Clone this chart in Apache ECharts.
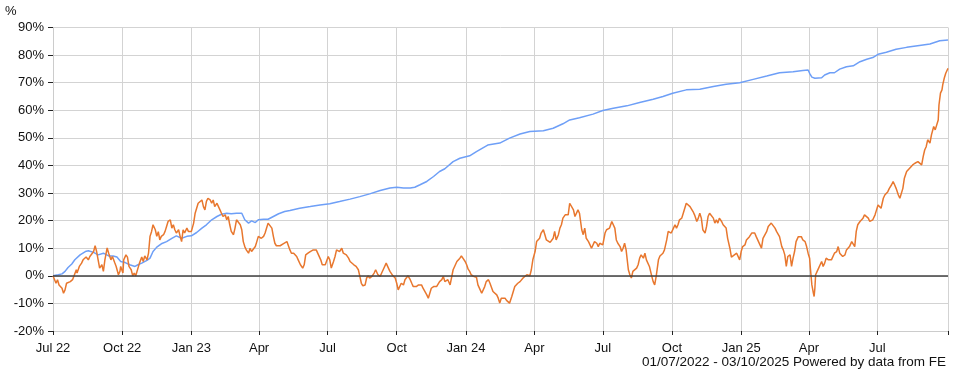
<!DOCTYPE html>
<html>
<head>
<meta charset="utf-8">
<script src="https://cdn.jsdelivr.net/npm/echarts@6/dist/echarts.min.js"></script>
<style>
html,body{margin:0;padding:0;background:#fff;}
#chart{width:959px;height:379px;}
</style>
</head>
<body>
<div id="chart"></div>
<script>
// x values are days since 01/07/2022
const tickDays = [0, 92, 184, 274, 365, 457, 549, 640, 731, 823, 915, 1005, 1096];
const tickLabels = ['Jul 22', 'Oct 22', 'Jan 23', 'Apr', 'Jul', 'Oct', 'Jan 24', 'Apr', 'Jul', 'Oct', 'Jan 25', 'Apr', 'Jul'];
const endDay = 1190;
const yTicks = [-20, -10, 0, 10, 20, 30, 40, 50, 60, 70, 80, 90];

const fundDays = [0,1,4,6,8,12,14,16,18,20,23,26,28,31,32,35,38,40,44,47,49,51,54,56,58,60,62,65,67,69,72,74,77,79,82,84,87,89,90,93,94,97,99,101,104,106,108,110,113,115,118,120,122,125,127,129,131,133,136,138,140,142,144,147,149,151,153,156,158,160,162,164,167,169,171,173,175,178,180,182,184,187,189,191,193,195,198,200,202,204,206,209,211,213,215,218,220,222,224,226,229,231,233,235,237,240,242,244,246,249,251,253,255,257,260,262,264,266,269,271,273,275,277,280,282,284,286,288,291,293,295,297,302,306,
311,313,315,317,320,324,326,329,332,334,336,339,342,346,348,350,353,356,358,362,364,366,368,370,373,375,377,379,381,384,386,388,390,393,395,397,400,403,406,408,410,412,415,417,419,421,424,427,429,432,435,437,439,443,446,448,450,452,455,457,459,461,463,466,468,470,472,475,477,479,481,483,486,488,490,492,494,497,499,501,503,506,508,510,512,514,517,519,521,523,525,528,530,532,534,537,539,541,543,545,548,550,552,554,556,559,561,563,565,568,570,572,574,576,579,581,583,585,587,590,592,594,596,598,601,603,605,607,
610,612,614,616,618,621,623,625,627,630,632,634,636,638,641,643,645,647,649,652,654,656,658,661,663,665,667,669,672,674,676,678,681,683,685,687,689,692,694,696,698,700,703,705,707,709,712,714,716,718,720,723,725,727,729,731,734,736,738,740,743,745,747,749,751,754,756,758,760,762,765,767,769,771,773,776,778,780,782,785,787,789,791,793,796,798,800,802,805,807,809,811,813,816,818,820,822,825,827,829,831,833,836,838,840,842,844,847,849,851,853,856,858,860,862,864,867,869,871,873,875,878,880,882,884,886,889,891,893,895,897,900,902,904,906,909,911,
913,915,917,920,922,924,926,929,931,933,935,937,940,942,944,946,949,951,953,955,957,960,962,964,966,969,971,973,975,977,980,982,984,986,988,991,993,995,997,1000,1002,1004,1006,1007,1009,1011,1012,1013,1014,1016,1018,1020,1022,1024,1026,1028,1031,1033,1035,1037,1039,1042,1044,1046,1048,1050,1053,1055,1057,1059,1062,1064,1066,1068,1070,1073,1075,1077,1079,1081,1084,1086,1088,1090,1093,1095,1097,1099,1101,1104,1106,1108,1110,1112,1115,1117,1119,1121,1124,1126,1128,1130,1132,1135,1137,1139,1141,1143,1146,1148,1150,1152,1155,1157,1159,1161,1163,1166,1168,1170,1171,1173,1175,1177,1178,1180,1182,1183,1185,1187,1189,1190];

const fundValues = [0,0.0,-2.7,-1.4,-3.3,-4.5,-6.3,-5.1,-2.7,-2.1,-2.1,-1.4,0,2.2,1.0,3.4,4.6,5.8,6.8,5.8,7.0,6.8,8.8,10.9,8.8,5.8,2.8,4.0,1.6,5.8,10.1,8.2,5.8,7.0,4.8,3.4,0.4,1.6,3.4,1.0,5.8,7.6,6.8,3.4,2.2,0.0,1.0,0.0,2.8,4.6,6.8,5.2,7.2,5.8,8.2,14.3,16.0,18.5,16.7,14.3,16.0,13.0,14.3,14.9,16.1,17.9,19.7,20.3,17.3,18.5,16.7,15.5,16.7,14.3,12.4,16.7,15.5,17.3,16.1,16.7,16.1,19.1,22.7,24.5,26.3,27.0,27.5,25.1,23.9,27.0,28.1,27.5,26.3,27.5,25.1,26.3,25.1,23.9,22.7,21.5,22.1,20.3,21.5,18.5,16.1,14.9,17.3,20.3,20.9,18.5,16.7,12.4,10.6,9.4,8.2,10.0,8.8,9.4,10.6,12.4,14.3,14.9,13.6,14.3,15.5,17.3,19.1,18.5,17.3,14.3,11.8,10.9,10.9,11.6,
12.4,11.8,9.4,8.2,8.2,7.0,5.8,4.0,2.8,4.0,7.6,8.2,8.8,9.4,10.0,9.4,7.6,5.8,4.0,4.0,4.6,7.0,5.8,2.8,5.2,7.0,9.4,8.8,8.8,10.0,8.2,8.8,7.6,6.4,5.2,4.6,4.0,3.4,2.2,-0.2,-2.7,-3.6,-3.3,-0.8,0,-0.8,-0.2,1.0,2.2,0.4,-0.2,1.0,2.2,4.6,2.8,1.6,1.0,0,-0.8,-2.7,-5.1,-5.7,-2.7,-3.3,-1.4,-0.8,0,-1.4,-2.7,-3.9,-3.3,-3.9,-3.3,-3.9,-3.3,-4.5,-5.1,-6.9,-8.1,-6.3,-4.5,-3.9,-4.5,-3.9,-3.3,-2.1,-1.4,-0.2,-2.1,-2.7,-1.4,-3.3,-3.9,2.2,3.4,5.2,5.8,6.4,7.2,6.4,5.2,4.0,2.4,1.6,0.4,-0.2,-0.8,-0.5,-3.3,-5.1,-6.3,-5.7,-3.9,-2.1,-1.4,-2.7,-3.3,-5.7,-5.7,-6.9,-8.1,-9.9,-8.1,-7.5,-8.1,-8.9,-9.3,-9.9,
-7.5,-5.7,-3.9,-3.3,-2.7,-2.1,-1.4,-0.8,-0.8,0.4,-0.2,0,2.2,5.8,8.8,12.4,12.4,13.6,15.5,16.7,14.9,13.0,13.6,12.1,11.6,13.6,16.1,13.0,14.9,17.3,18.5,20.9,22.1,21.5,22.1,26.3,26.9,23.9,21.5,22.1,23.9,22.7,16.7,14.9,17.3,13.6,12.4,11.2,10.0,10.6,12.4,11.8,10.6,11.8,11.2,11.2,15.5,16.7,16.1,17.3,19.7,19.1,17.3,13.0,11.8,10.6,8.8,10.0,11.8,9.4,2.2,0.4,-0.8,1.6,2.2,2.8,4.0,6.4,7.6,6.4,8.2,5.8,5.2,3.4,0,-2.1,-3.3,-0.2,5.8,7.2,7.6,8.2,9.4,13.0,16.1,16.7,15.5,17.3,18.5,17.3,18.5,20.3,20.9,22.7,23.3,26.3,26.9,25.1,24.5,23.3,22.1,19.7,20.9,22.7,20.9,16.7,15.5,17.9,21.5,22.7,23.3,20.9,19.1,20.3,19.1,20.9,19.7,18.5,19.1,17.3,13.6,10.0,6.8,6.4,7.6,8.2,7.6,
5.8,8.8,10.6,11.2,13.0,13.6,14.2,15.5,16.1,15.5,14.2,14.2,11.2,10.0,13.6,14.2,16.1,17.9,17.3,19.1,18.5,17.3,16.1,15.5,14.2,10.6,9.4,7.6,3.4,7.0,7.6,3.4,6.4,8.8,12.4,14.2,14.8,14.2,13.0,12.4,10.6,8.2,6.4,2.8,-3.3,-6.3,-7.5,-4.5,0.4,1.6,2.8,4.0,5.2,3.4,4.6,6.4,5.8,6.2,5.8,6.4,8.2,8.8,10.6,8.2,8.8,7.0,7.6,9.4,10.0,10.6,12.4,11.8,10.6,16.1,18.5,19.7,19.1,20.9,22.1,21.5,20.9,19.7,20.3,20.3,22.1,23.9,25.7,26.3,24.5,28.1,29.3,28.7,30.5,31.7,33.0,34.2,33.0,31.7,29.3,28.1,27.5,31.7,35.4,37.8,38.4,39.0,39.6,40.2,40.8,41.2,41.4,40.8,40.2,43.2,45.6,46.8,49.3,48.1,51.1,51.7,54.1,52.9,52.3,56.5,61.9,66.2,67.4,69.2,71.6,73.4,74.6,75.2];

const benchDays = [0,7,12,16,20,25,29,36,43,47,54,60,67,74,80,85,90,96,102,109,113,118,125,129,133,138,144,151,158,164,171,178,184,191,198,204,211,218,224,231,237,244,251,255,260,264,269,273,280,286,293,300,308,315,328,342,355,368,381,395,408,421,435,448,457,466,475,481,488,497,506,514,521,532,541,554,563,578,594,607,621,634,652,665,678,687,700,718,731,745,763,780,798,811,824,842,860,878,895,913,931,949,966,984,997,1004,1006,1009,1013,1022,1026,1033,1039,1046,1055,1064,1073,1082,1090,1097,1108,1121,1135,1152,1166,1179,1190];
const benchValues = [0,0.4,0.7,1.6,3.0,4.3,5.8,7.6,8.8,9.1,8.5,7.6,8.2,7.2,7.2,6.8,5.2,4.8,4.0,3.4,4.0,4.6,5.6,6.4,8.8,10.4,11.6,12.4,13.6,14.5,13.6,14.3,14.5,15.7,17.3,18.5,20.3,21.5,22.3,22.7,22.5,22.7,22.7,20.3,19.1,19.9,19.3,20.3,20.5,20.5,21.5,22.5,23.3,23.7,24.5,25.1,25.7,26.1,26.9,27.8,28.7,29.7,30.9,31.8,32.1,31.8,31.8,32.1,33.0,34.2,36.0,37.8,38.8,41.4,42.6,43.5,45.0,47.4,48.1,49.9,51.4,52.3,52.6,53.5,55.1,56.5,57.3,58.6,59.9,60.7,61.6,62.8,64.0,65.0,66.2,67.4,67.6,68.6,69.4,70.0,71.2,72.4,73.6,74.0,74.4,74.6,73.4,72.0,71.6,71.8,72.8,73.6,73.6,74.9,75.8,76.1,77.6,78.5,79.1,80.3,81.0,82.1,82.8,83.5,84.0,85.2,85.5];

const footerText = '01/07/2022 - 03/10/2025 Powered by data from FE';
const FONT = '"Liberation Sans", Arial, sans-serif';

const fundData = fundDays.map((d, i) => [d, fundValues[i]]);
const benchData = benchDays.map((d, i) => [d, benchValues[i]]);

const chart = echarts.init(document.getElementById('chart'), null, {renderer: 'canvas'});
chart.setOption({
  animation: false,
  backgroundColor: '#ffffff',
  grid: {left: 53, right: 11, top: 27.5, bottom: 48, containLabel: false},
  graphic: [
    {type: 'text', left: 5, top: 5, style: {text: '%', fontSize: 13, fontFamily: FONT, fill: '#111'}},
    {type: 'text', right: 13, top: 355, style: {text: footerText, fontSize: 13.5, fontFamily: FONT, fill: '#111'}}
  ],
  xAxis: {
    type: 'value', min: 0, max: endDay,
    axisLine: {show: true, onZero: false, lineStyle: {color: '#cccccc', width: 1}},
    axisTick: {show: true, customValues: tickDays.concat([endDay]), length: 4, lineStyle: {color: '#222'}},
    axisLabel: {
      customValues: tickDays, margin: 11, color: '#111', fontSize: 13, fontFamily: FONT,
      formatter: v => { const i = tickDays.indexOf(v); return i >= 0 ? tickLabels[i] : ''; }
    },
    splitLine: {show: true, lineStyle: {color: '#d3d3d3', width: 1}}
  },
  yAxis: {
    type: 'value', min: -20, max: 90, interval: 10,
    axisLine: {show: true, onZero: false, lineStyle: {color: '#cccccc', width: 1}},
    axisTick: {show: true, length: 5, lineStyle: {color: '#222'}},
    axisLabel: {margin: 9, color: '#111', fontSize: 13, fontFamily: FONT, formatter: '{value}%'},
    splitLine: {show: true, lineStyle: {color: '#d3d3d3', width: 1}}
  },
  series: [
    {
      name: 'Benchmark', type: 'line', data: benchData, showSymbol: false, symbol: 'none',
      lineStyle: {color: '#6e9ff7', width: 1.5}, itemStyle: {color: '#6e9ff7'}, z: 3,
      markLine: {
        silent: true, symbol: 'none', label: {show: false},
        lineStyle: {color: '#404040', width: 1.5, type: 'solid'},
        data: [{yAxis: 0}]
      }
    },
    {
      name: 'Fund', type: 'line', data: fundData, showSymbol: false, symbol: 'none',
      lineStyle: {color: '#e8772e', width: 1.5}, itemStyle: {color: '#e8772e'}, z: 4
    }
  ]
});
</script>
</body>
</html>
